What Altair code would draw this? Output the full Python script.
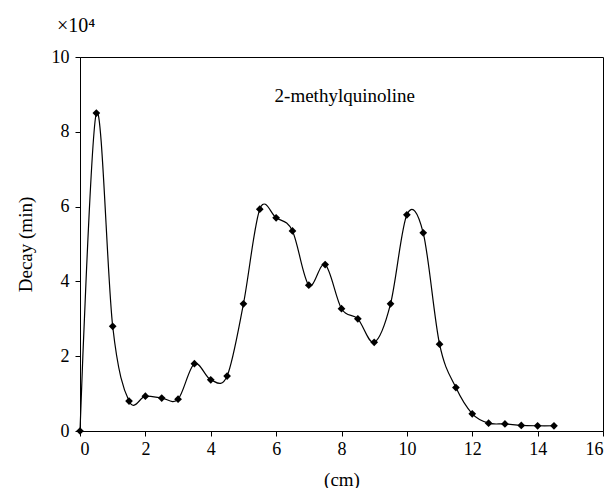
import altair as alt
import pandas as pd

cm = [0, 0.5, 1.0, 1.5, 2.0, 2.5, 3.0, 3.5, 4.0, 4.5, 5.0, 5.5, 6.0, 6.5, 7.0,
      7.5, 8.0, 8.5, 9.0, 9.5, 10.0, 10.5, 11.0, 11.5, 12.0, 12.5, 13.0, 13.5, 14.0, 14.5]
decay = [0.0, 8.5, 2.8, 0.8, 0.93, 0.88, 0.85, 1.8, 1.37, 1.47, 3.4, 5.93, 5.7, 5.35, 3.9,
         4.45, 3.27, 3.0, 2.37, 3.4, 5.78, 5.3, 2.32, 1.16, 0.46, 0.21, 0.19, 0.15, 0.14, 0.14]

label_text = ["2-methylquinoline"]
label_x = [8.1]
label_y = [8.95]

df = pd.DataFrame({"cm": cm, "decay": decay})
lab = pd.DataFrame({"t": label_text, "x": label_x, "y": label_y})

FONT = "Liberation Serif"

x = alt.X("cm:Q", scale=alt.Scale(domain=[0, 16], nice=False),
          axis=alt.Axis(values=list(range(0, 17, 2)), title="(cm)", grid=False,
                        labelFontSize=18, titleFontSize=19, titleFontWeight="normal",
                        labelFont=FONT, titleFont=FONT, tickSize=5, labelPadding=4,
                        titlePadding=12, domainColor="black", tickColor="black",
                        labelColor="black", titleColor="black"))
y = alt.Y("decay:Q", scale=alt.Scale(domain=[0, 10], nice=False),
          axis=alt.Axis(values=list(range(0, 11, 2)), title="Decay (min)", grid=False,
                        labelFontSize=18, titleFontSize=19, titleFontWeight="normal",
                        labelFont=FONT, titleFont=FONT, tickSize=5, labelPadding=6,
                        titlePadding=16, domainColor="black", tickColor="black",
                        labelColor="black", titleColor="black"))

line = alt.Chart(df).mark_line(interpolate="cardinal", color="black", strokeWidth=1.2).encode(x=x, y=y)
pts = alt.Chart(df).mark_point(shape="diamond", filled=True, color="black", size=60, opacity=1).encode(x=x, y=y)
txt = alt.Chart(lab).mark_text(font=FONT, fontSize=19, color="black").encode(
    x=alt.X("x:Q"), y=alt.Y("y:Q"), text="t:N")

chart = alt.layer(line, pts, txt).properties(
    width=523, height=374,
    title=alt.TitleParams(text="×10⁴", anchor="start", frame="group", dx=-23, offset=12,
                          font=FONT, fontSize=20, fontWeight="normal", color="black"),
    padding={"left": 72, "top": 49, "right": 4, "bottom": 57},
    autosize=alt.AutoSizeParams(type="none"),
).configure_view(stroke="black", strokeWidth=1)

chart.save("out.html", embed_options={"renderer": "svg", "actions": False})
